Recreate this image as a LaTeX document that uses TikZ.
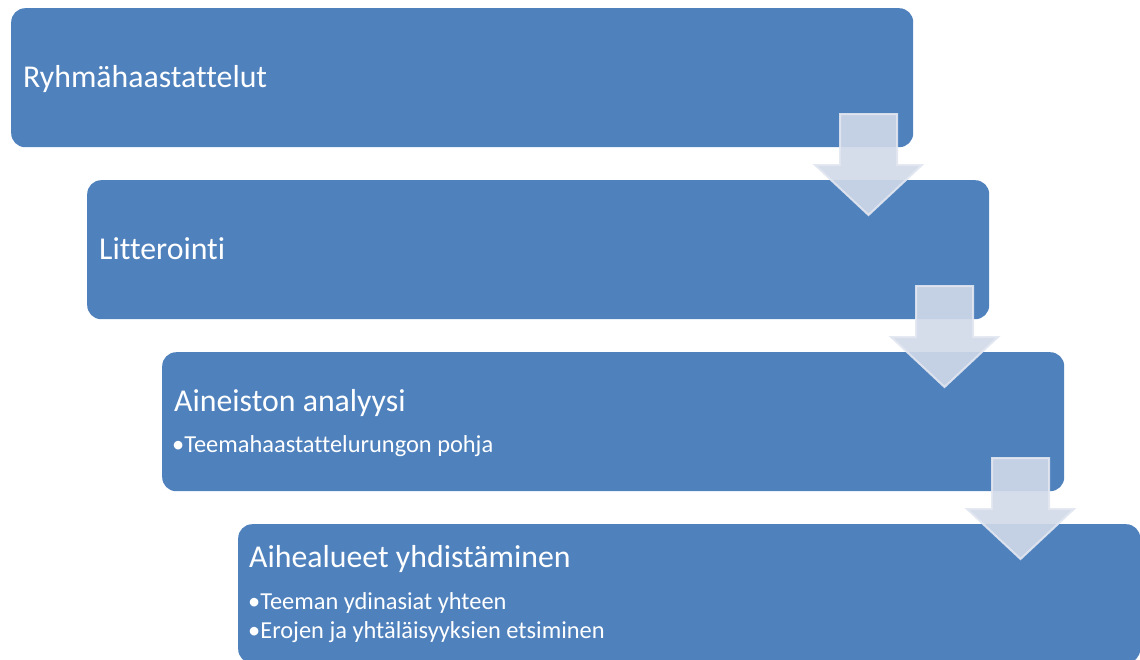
\documentclass[tikz,border=0pt]{standalone}
\usepackage{fontspec}
\setmainfont{Carlito}[Ligatures=NoCommon]
\usepackage{tikz}
\usetikzlibrary{positioning}
\definecolor{boxblue}{RGB}{79,129,189}
\definecolor{arrowfill}{RGB}{209,217,232}
\definecolor{arrowline}{RGB}{226,231,241}

\begin{document}
\begin{tikzpicture}[x=1pt,y=1pt,
    stepbox/.style={fill=boxblue,rounded corners=14pt,minimum width=902pt,
      minimum height=139pt,anchor=north west,inner sep=0pt},
    steptitle/.style={text=white,inner sep=0pt,anchor=base west,
      font=\fontsize{31.8}{36}\selectfont},
    stepitem/.style={text=white,inner sep=0pt,anchor=base west,
      font=\fontsize{24.4}{29}\selectfont},
    downarrow/.style={fill=arrowfill,fill opacity=0.9,draw=arrowline,
      draw opacity=0.9,line width=2pt,line join=miter}]
  \useasboundingbox (0,0) rectangle (1140,-659);
  % the four steps
  \node[stepbox] (gather) at (11,-8) {};
  \node[stepbox] (transcribe) at (87,-180) {};
  \node[stepbox] (analyse) at (162,-352) {};
  \node[stepbox] (combine) at (238,-524) {};
  % labels
  \node[steptitle] (gathertxt) at (23,-87) {Ryhmähaastattelut};
  \node[steptitle] (transcribetxt) at (99,-259) {Litterointi};
  \node[steptitle] (analysetxt) at (174,-411) {Aineiston analyysi};
  \node[stepitem] (analyseitem) at (172,-452) {•Teemahaastattelurungon pohja};
  \node[steptitle] (combinetxt) at (249,-567) {Aihealueet yhdistäminen};
  \node[stepitem] (combineitema) at (248,-609) {•Teeman ydinasiat yhteen};
  \node[stepitem] (combineitemb) at (248,-638) {•Erojen ja yhtäläisyyksien etsiminen};
  % arrows between the steps
  \foreach \i in {0,1,2}
    \draw[downarrow,shift={(76*\i,-172*\i)}]
      (840,-114) -- (897,-114) -- (897,-165) -- (922,-165)
      -- (868.5,-215) -- (815,-165) -- (840,-165) -- cycle;
\end{tikzpicture}
\end{document}
